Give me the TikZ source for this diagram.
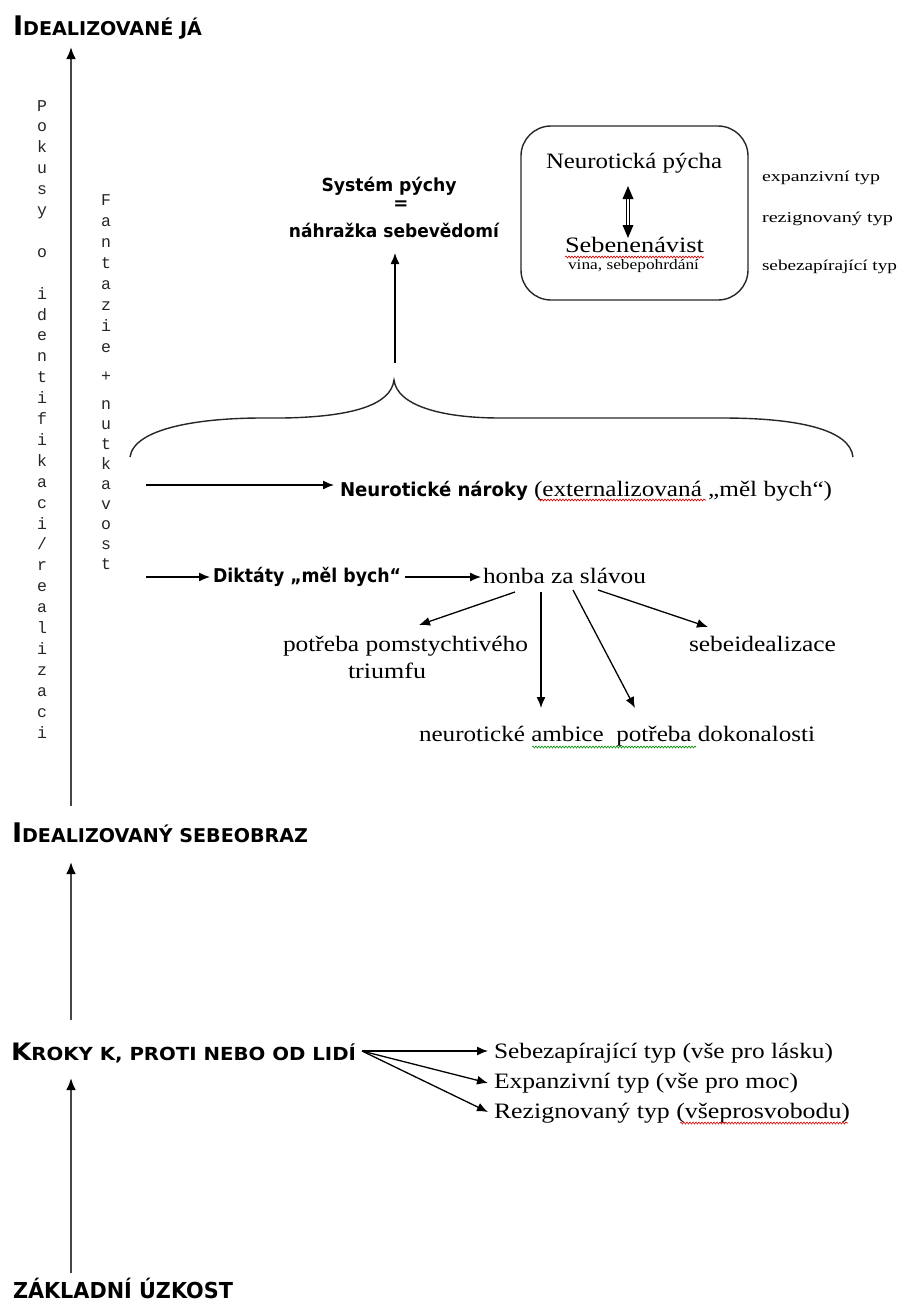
\documentclass[tikz,border=0pt]{standalone}
\usepackage{fontspec}
\usepackage{graphicx}
\setmainfont{Liberation Serif}
\newfontfamily\hsans{DejaVu Sans}
\newfontfamily\vmono{Liberation Mono}
\usetikzlibrary{arrows.meta,decorations.pathmorphing}
\newcommand\fitw[2]{\resizebox{#1pt}{\height}{#2}}
\newcommand\sz[1]{\fontsize{#1}{#1}\selectfont}
\newcommand\hcap[2]{{\hsans\bfseries\sz{27}#1\sz{19}#2}}
\begin{document}
\begin{tikzpicture}[x=1pt,y=-1pt,
  txt/.style={anchor=base west, inner sep=0pt, outer sep=0pt},
  ctxt/.style={anchor=base, inner sep=0pt, outer sep=0pt},
  vl/.style={anchor=base, inner sep=0pt, font=\vmono\sz{16.5}, text=black!85},
  mainarrow/.style={draw=black!72, line width=2.4pt, -{Latex[length=12pt,width=10pt,color=black]}},
  arr/.style={draw=black, line width=1.3pt, -{Latex[length=11pt,width=9pt]}},
  bracepath/.style={draw=black!85, line width=1.4pt},
  wavyred/.style={draw=red!85!black, line width=0.6pt, decorate, decoration={snake, amplitude=1pt, segment length=3pt}},
  wavygreen/.style={draw=green!55!black, line width=0.6pt, decorate, decoration={snake, amplitude=1pt, segment length=3pt}}
]
\useasboundingbox (0,0) rectangle (901,1301);

% ---------- headings ----------
\node[txt] (ideal) at (13,35) {\fitw{189}{\hcap{I}{DEALIZOVANÉ JÁ}}};
\node[txt] (sebeobraz) at (12,842) {\fitw{296}{\hcap{I}{DEALIZOVANÝ SEBEOBRAZ}}};
\node[txt] (kroky) at (11,1060) {\fitw{345}{{\hsans\bfseries\sz{24}K\sz{18}ROKY K, PROTI NEBO OD LIDÍ}}};
\node[txt] (uzkost) at (13,1298) {\fitw{220}{{\hsans\bfseries\sz{22}ZÁKLADNÍ ÚZKOST}}};

% ---------- vertical texts ----------
\foreach \l [count=\i] in {P,o,k,u,s,y,{},o,{},i,d,e,n,t,i,f,i,k,a,c,i,/,r,e,a,l,i,z,a,c,i}
  \node[vl] (pk\i) at (42,{111+(\i-1)*20.9}) {\l};
\foreach \l/\yy [count=\i] in {F/205,a/226,n/247,t/268,a/289,z/310,i/331,e/352,+/381,n/409,u/429,t/449,k/469,a/489,v/509,o/529,s/549,t/569}
  \node[vl] (fn\i) at (106,\yy) {\l};

% ---------- main vertical arrows ----------
\coordinate (a1s) at (71,806); \coordinate (a1e) at (71,47);
\coordinate (a2s) at (71,1020); \coordinate (a2e) at (71,862);
\coordinate (a3s) at (71,1273); \coordinate (a3e) at (71,1078);
\draw[mainarrow] (a1s) -- (a1e);
\draw[mainarrow] (a2s) -- (a2e);
\draw[mainarrow] (a3s) -- (a3e);

% ---------- pride system ----------
\node[ctxt] (system) at (389,191) {\fitw{135}{{\hsans\bfseries\sz{18}Systém pýchy}}};
\node[ctxt] (rovno) at (401,209) {{\hsans\bfseries\sz{18}=}};
\node[ctxt] (nahrazka) at (394,237) {\fitw{210}{{\hsans\bfseries\sz{18}náhražka sebevědomí}}};

% brace
\draw[bracepath] (130,457) .. controls (134,428) and (200,418) .. (262,418)
  -- (282,418) .. controls (352,417) and (391,405) .. (394,380)
  .. controls (397,405) and (440,418) .. (500,418)
  -- (722,418) .. controls (800,418) and (850,430) .. (853,457);
\coordinate (bt) at (395,363); \coordinate (ntip) at (395,253);
\draw[arr] (bt) -- (ntip);

% box
\node[draw=black!85, line width=1.4pt, rounded corners=30pt, minimum width=227pt, minimum height=174pt, inner sep=0pt] (box) at (634.5,213) {};
\node[txt] (pycha) at (546,168) {\fitw{176}{\sz{22}Neurotická pýcha}};
\node[txt] (nenavist) at (565,252) {\fitw{139}{\sz{22}Sebenenávist}};
\node[txt] (vina) at (568,269) {\fitw{131}{\sz{14.5}vina, sebepohrdání}};
\draw[wavyred] (565,257) -- (704,257);
% double arrow
\coordinate (dt) at (628,186); \coordinate (db) at (628,238);
\draw[line width=0.9pt] (626.5,197) -- (626.5,227) (629.5,197) -- (629.5,227);
\fill (dt) -- (622.5,199) -- (633.5,199) -- cycle;
\fill (db) -- (622.5,225) -- (633.5,225) -- cycle;

% right labels
\node[txt] (lexp) at (762,181) {\fitw{118}{\sz{15}expanzivní typ}};
\node[txt] (lrez) at (762,222) {\fitw{131}{\sz{15}rezignovaný typ}};
\node[txt] (lseb) at (762,270) {\fitw{135}{\sz{15}sebezapírající typ}};

% ---------- claims ----------
\node[txt] (naroky) at (340,496) {\fitw{188}{{\hsans\bfseries\sz{19}Neurotické nároky}}};
\node[txt] (extern) at (534,496) {\fitw{298}{\sz{22}(externalizovaná „měl bych“)}};
\draw[wavyred] (538,500) -- (706,500);
\coordinate (n1s) at (146,485); \coordinate (n1e) at (334,485);
\draw[arr] (n1s) -- (n1e);

% ---------- dictates ----------
\node[txt] (diktaty) at (213,582) {\fitw{188}{{\hsans\bfseries\sz{19}Diktáty „měl bych“}}};
\node[txt] (honba) at (483,583) {\fitw{163}{\sz{22}honba za slávou}};
\coordinate (d1s) at (146,577); \coordinate (d1e) at (210,577);
\coordinate (d2s) at (405,577); \coordinate (d2e) at (481,577);
\draw[arr] (d1s) -- (d1e);
\draw[arr] (d2s) -- (d2e);

\node[txt] (pomsta) at (283,651) {\fitw{245}{\sz{22}potřeba pomstychtivého}};
\node[txt] (triumf) at (348,678) {\fitw{78}{\sz{22}triumfu}};
\node[txt] (idealiz) at (689,651) {\fitw{147}{\sz{22}sebeidealizace}};
\node[txt] (ambice) at (419,741) {\fitw{396}{\sz{22}neurotické ambice\ \ potřeba dokonalosti}};
\draw[wavygreen] (532,747) -- (696,747);

\coordinate (h1s) at (515,592); \coordinate (h1e) at (419,625);
\coordinate (h2s) at (541,592); \coordinate (h2e) at (541,708);
\coordinate (h3s) at (573,590); \coordinate (h3e) at (635,708);
\coordinate (h4s) at (598,590); \coordinate (h4e) at (708,627);
\draw[arr] (h1s) -- (h1e);
\draw[arr] (h2s) -- (h2e);
\draw[arr] (h3s) -- (h3e);
\draw[arr] (h4s) -- (h4e);

% ---------- types ----------
\node[txt] (tsz) at (494,1058) {\fitw{339}{\sz{22}Sebezapírající typ (vše pro lásku)}};
\node[txt] (tex) at (494,1088) {\fitw{304}{\sz{22}Expanzivní typ (vše pro moc)}};
\node[txt] (trz) at (494,1118) {\fitw{356}{\sz{22}Rezignovaný typ (všeprosvobodu)}};
\draw[wavyred] (680,1123) -- (848,1123);
\coordinate (ks) at (362,1051);
\coordinate (k1) at (488,1051); \coordinate (k2) at (488,1083); \coordinate (k3) at (488,1112);
\draw[arr] (ks) -- (k1);
\draw[arr] (ks) -- (k2);
\draw[arr] (ks) -- (k3);
\end{tikzpicture}
\end{document}
